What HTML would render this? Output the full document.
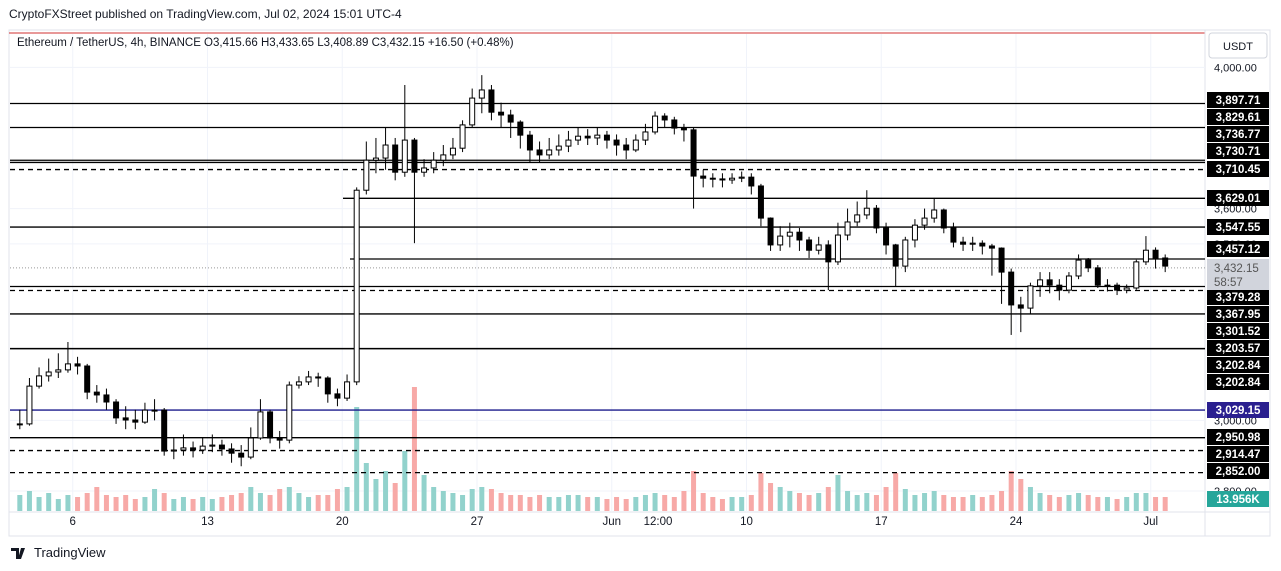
<!DOCTYPE html>
<html><head><meta charset="utf-8"><style>
body{margin:0;width:1281px;height:571px;background:#fff;font-family:"Liberation Sans",sans-serif;overflow:hidden;position:relative}
.t{position:absolute;white-space:nowrap}
</style></head><body>
<div class="t" style="left:9px;top:7px;font-size:12px;color:#131722">CryptoFXStreet published on TradingView.com, Jul 02, 2024 15:01 UTC-4</div>
<svg id="chart" width="1281" height="571" style="position:absolute;left:0;top:0">
<rect x="9" y="30" width="1261" height="506" fill="none" stroke="#e0e3eb"/>
<line x1="9" y1="33" x2="1205" y2="33" stroke="#d03030" stroke-width="1"/>
<line x1="1205" y1="30" x2="1205" y2="536" stroke="#e0e3eb"/>
<line x1="9" y1="512" x2="1270" y2="512" stroke="#e0e3eb"/>
<g id="grid"></g><g id="vol"></g><g id="levels"></g><g id="candles"></g><g id="axis"></g>
<text x="17" y="46" font-size="11.5" fill="#131722" font-family="Liberation Sans">Ethereum / TetherUS, 4h, BINANCE  O3,415.66  H3,433.65  L3,408.89  C3,432.15  +16.50 (+0.48%)</text>
<rect x="1209" y="33" width="58" height="25" fill="#fff" stroke="#d1d4dc" rx="3"/>
<text x="1238" y="50" font-size="11" text-anchor="middle" fill="#131722">USDT</text>
<text x="34" y="557" font-size="13" fill="#131722">TradingView</text>
<path d="M11 548h8v11h-3v-8h-5z M21 548h4l-4 11h-3z" fill="#131722"/>
</svg>
<script>
const closes=[2990,3097,3126,3137,3143,3160,3154,3080,3072,3052,3007,3001,2995,3029,3029,2913,2916,2922,2916,2927,2930,2919,2907,2896,2950,3024,2950,2944,3100,3109,3123,3120,3075,3063,3109,3652,3737,3743,3780,3703,3794,3703,3715,3737,3752,3771,3837,3913,3936,3873,3865,3845,3808,3766,3752,3766,3777,3794,3805,3800,3808,3794,3780,3766,3794,3817,3862,3851,3828,3823,3692,3686,3684,3681,3686,3689,3664,3573,3497,3522,3533,3511,3482,3497,3449,3525,3562,3582,3601,3545,3497,3437,3511,3553,3573,3596,3545,3505,3499,3502,3494,3488,3420,3327,3318,3381,3398,3383,3369,3409,3454,3432,3383,3383,3369,3375,3449,3482,3460,3437];
const highs=[3030,3120,3150,3175,3190,3222,3180,3160,3100,3090,3060,3040,3030,3050,3060,3035,2950,2960,2940,2950,2960,2945,2935,2930,2980,3060,3030,2970,3110,3125,3140,3135,3125,3090,3130,3660,3790,3800,3830,3800,3950,3800,3740,3760,3780,3800,3850,3940,3978,3950,3900,3880,3850,3820,3790,3800,3810,3820,3830,3825,3830,3820,3810,3800,3810,3840,3875,3870,3860,3840,3830,3710,3700,3700,3700,3705,3700,3670,3575,3550,3560,3545,3520,3520,3510,3560,3600,3620,3652,3610,3560,3500,3520,3570,3600,3630,3600,3560,3520,3520,3510,3500,3490,3430,3350,3390,3420,3420,3400,3420,3470,3460,3440,3400,3390,3385,3455,3522,3490,3470];
const lows=[2975,2985,3090,3110,3120,3135,3130,3060,3050,3030,2990,2975,2975,2990,3000,2900,2890,2900,2895,2905,2910,2900,2880,2870,2890,2945,2935,2920,2935,3090,3100,3095,3050,3040,3055,3100,3640,3700,3710,3680,3690,3502,3690,3700,3720,3740,3760,3830,3870,3850,3830,3800,3770,3730,3730,3740,3750,3760,3780,3780,3780,3770,3750,3740,3760,3780,3810,3830,3810,3790,3600,3660,3660,3660,3670,3675,3640,3550,3480,3480,3490,3480,3460,3470,3369,3440,3510,3550,3570,3530,3470,3380,3420,3490,3540,3560,3530,3490,3480,3480,3470,3410,3330,3242,3250,3300,3350,3360,3340,3360,3400,3420,3375,3365,3355,3360,3370,3440,3430,3420];
const volumes=[40,50,35,45,30,40,35,45,60,40,35,40,30,35,55,45,30,35,30,35,30,35,40,45,60,45,40,55,60,45,35,40,40,55,60,260,120,80,100,70,150,310,90,60,50,45,40,55,60,55,45,40,40,35,40,35,35,40,40,35,35,30,35,30,35,40,45,40,35,50,100,45,35,30,35,35,40,95,70,60,50,45,40,45,60,90,50,40,45,40,60,95,55,40,45,50,40,35,35,40,35,40,50,100,80,60,45,40,35,40,45,40,35,35,30,35,45,45,35,35];
const firstOpen=2990;
const levelPrices=[3897.71,3829.61,3736.77,3730.71,3710.45,3629.01,3547.55,3457.12,3379.28,3367.95,3301.52,3203.57,3202.84,3029.15,2950.98,2914.47,2852.00];
const levelDashed=[0,0,0,0,1,0,0,0,0,1,0,0,0,0,0,1,1];
const levelLabels=["3,897.71","3,829.61","3,736.77","3,730.71","3,710.45","3,629.01","3,547.55","3,457.12","3,379.28","3,367.95","3,301.52","3,203.57","3,202.84","3,202.84","3,029.15","2,950.98","2,914.47","2,852.00"];
const priceTicks=[4000,3600,3500,3000,2800];
const priceTickLabels=["4,000.00","3,600.00","3,500.00","3,000.00","2,800.00"];
const dateTicks=[3,10,17,24,31,39.5,38,45,52,59];
const dateTickLabels=["6","13","20","27","Jun","12:00","10","17","24","Jul"];
const lastPrice=3432.15;

const NS="http://www.w3.org/2000/svg";
function y(p){return 259-(p-3457.12)*0.353;}
function xi(i){return 15+(i+0.5)*9.625;}
function xd(d){return 15+d*19.25;}
function yv(v){return 511-v*0.4;}
function mk(tag,attrs,parent){const e=document.createElementNS(NS,tag);for(const k in attrs)e.setAttribute(k,attrs[k]);document.getElementById(parent).appendChild(e);return e;}

priceTicks.forEach((p,i)=>{const l=mk('line',{x1:10,x2:1205,y1:y(p),y2:y(p),stroke:'#f0f3fa'},'grid');

});
dateTicks.forEach((d,i)=>{if(i===5)return;const l=mk('line',{x1:xd(d),x2:xd(d),y1:34,y2:512,stroke:'#f0f3fa'},'grid');

});

volumes.forEach((v,i)=>{const o=i?closes[i-1]:firstOpen;const up=closes[i]>=o;
const r=mk('rect',{x:xi(i)-2.5,y:yv(v),width:5,height:511-yv(v),fill:up?'#92d2cc':'#f7a9a7'},'vol');

});

levelPrices.forEach((p,i)=>{let x1=10;if(i===5)x1=343;if(i===7)x1=350;
const l=mk('line',{x1:x1,x2:1205,y1:y(p),y2:y(p),stroke:i===13?'#1a1a8c':'#000','stroke-width':1.3},'levels');
if(levelDashed[i])l.setAttribute('stroke-dasharray','5,4');

});
const cl=mk('line',{x1:10,x2:1205,y1:y(lastPrice),y2:y(lastPrice),stroke:'#999','stroke-dasharray':'1,2'},'levels');



closes.forEach((c,i)=>{const o=i?closes[i-1]:firstOpen;const up=c>=o;const x=xi(i);
const w=mk('line',{x1:x,x2:x,y1:y(highs[i]),y2:y(lows[i]),stroke:'#000','stroke-width':1},'candles');


const top=y(Math.max(o,c)),bot=y(Math.min(o,c));
const b=mk('rect',{x:x-2.5,y:top,width:5,height:Math.max(1,bot-top),fill:up?'#fff':'#000',stroke:'#000','stroke-width':1},'candles');

});

priceTicks.forEach((p,i)=>{const t=mk('text',{x:1214,y:y(p)+4,'font-size':11,fill:'#131722'},'axis');t.textContent=priceTickLabels[i];

});
dateTicks.forEach((d,i)=>{let xx=xd(d);if(i===5)xx=658;const t=mk('text',{x:xx,y:525,'font-size':11.5,fill:'#131722','text-anchor':'middle'},'axis');t.textContent=dateTickLabels[i];

});

const labelY=[100,117,134,151,169,198,227,249,297,314,331,348,365,382,410,437,454,471];
function box(yc,txt,bg,fg,name){const r=mk('rect',{x:1207,y:yc-8,width:62,height:16,fill:bg},'axis');


const t=mk('text',{x:1238,y:yc+4,'font-size':11.5,'font-weight':'bold',fill:fg,'text-anchor':'middle'},'axis');t.textContent=txt;

}
levelLabels.forEach((s,i)=>box(labelY[i],s,i===14?'#2a1f8f':'#000','#fff','level-price-label'));
const g=mk('rect',{x:1207,y:259,width:62,height:31,fill:'#d1d4dc'},'axis');


const t1=mk('text',{x:1214,y:272,'font-size':11.5,fill:'#555'},'axis');t1.textContent='3,432.15';


const t2=mk('text',{x:1214,y:286,'font-size':11.5,fill:'#555'},'axis');t2.textContent='58:57';


box(499,'13.956K','#26a69a','#fff','volume-label');
</script>
</body></html>
